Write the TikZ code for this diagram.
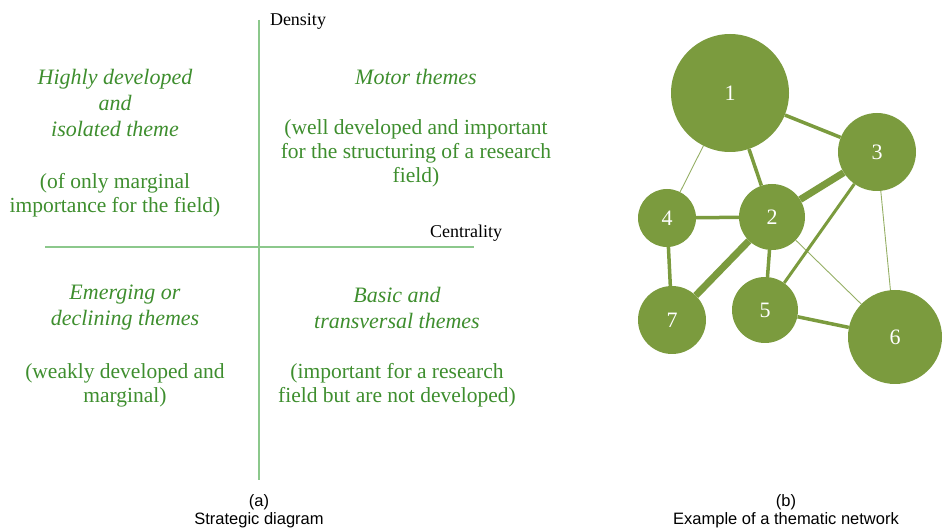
\documentclass[tikz,border=0pt]{standalone}
\usepackage{fontspec}
\setmainfont{Liberation Serif}
\setsansfont{Liberation Sans}
\usetikzlibrary{backgrounds}
\definecolor{themegreen}{HTML}{3E8E2E}
\definecolor{axisgreen}{HTML}{8CC88C}
\definecolor{nodegreen}{HTML}{7B9B3E}
\tikzset{
  axis/.style={draw=axisgreen,line width=1.5pt},
  quadrant/.style={text=themegreen,align=center,font=\fontsize{21.5}{24}\selectfont},
  heading/.style={quadrant,font=\fontsize{22}{26}\selectfont\itshape},
  label/.style={font=\fontsize{18}{18}\selectfont},
  caption/.style={align=center,font=\sffamily\fontsize{16.5}{18}\selectfont},
  theme/.style={circle,fill=nodegreen,text=white,inner sep=0pt,font=\fontsize{22}{22}\selectfont},
  weak/.style={draw=nodegreen!80,line width=0.9pt},
  link/.style={draw=nodegreen,line width=3.5pt},
  strong/.style={draw=nodegreen,line width=7pt}}

\begin{document}
\begin{tikzpicture}[x=1pt,y=-1pt]
  \useasboundingbox (0,0) rectangle (943,529);
  % strategic diagram
  \coordinate (top) at (259,20);
  \coordinate (bottom) at (259,480);
  \coordinate (west) at (45,247);
  \coordinate (east) at (474,247);
  \draw [axis] (top) -- (bottom);
  \draw [axis] (west) -- (east);
  \node [label] (density) at (298,21) {Density};
  \node [label] (centrality) at (466,233) {Centrality};
  \node [heading] (isolated) at (115,103) {Highly developed\\and\\isolated theme};
  \node [quadrant] (isolatedtext) at (115,195) {(of only marginal\\importance for the field)};
  \node [heading] (motor) at (416,77) {Motor themes};
  \node [quadrant] (motortext) at (416,153) {(well developed and important\\for the structuring of a research\\field)};
  \node [heading] (emerging) at (125,308) {Emerging or\\declining themes};
  \node [quadrant] (emergingtext) at (125,385) {(weakly developed and\\marginal)};
  \node [heading] (basic) at (397,308) {Basic and\\transversal themes};
  \node [quadrant] (basictext) at (397,385) {(important for a research\\field but are not developed)};
  \node [caption] (capa) at (259,511) {(a)\\Strategic diagram};
  % thematic network
  \node [theme,minimum size=118pt] (n1) at (730,93) {1};
  \node [theme,minimum size=66pt] (n2) at (772,217) {2};
  \node [theme,minimum size=78pt] (n3) at (877,152) {3};
  \node [theme,minimum size=58pt] (n4) at (667,218) {4};
  \node [theme,minimum size=66pt] (n5) at (765,310) {5};
  \node [theme,minimum size=94pt] (n6) at (895,337) {6};
  \node [theme,minimum size=68pt] (n7) at (672,320) {7};
  \begin{scope}[on background layer]
    \draw [link] (n1) -- (n3);
    \draw [weak] (n1) -- (n4);
    \draw [link] (n1) -- (n2);
    \draw [strong] (n2) -- (n3);
    \draw [link] (n2) -- (n4);
    \draw [strong] (n2) -- (n7);
    \draw [link] (n2) -- (n5);
    \draw [weak] (n2) -- (n6);
    \draw [link,line width=3pt] (n3) -- (n5);
    \draw [weak] (n3) -- (n6);
    \draw [link] (n4) -- (n7);
    \draw [link] (n5) -- (n6);
  \end{scope}
  \node [caption] (capb) at (786,511) {(b)\\Example of a thematic network};
\end{tikzpicture}
\end{document}
